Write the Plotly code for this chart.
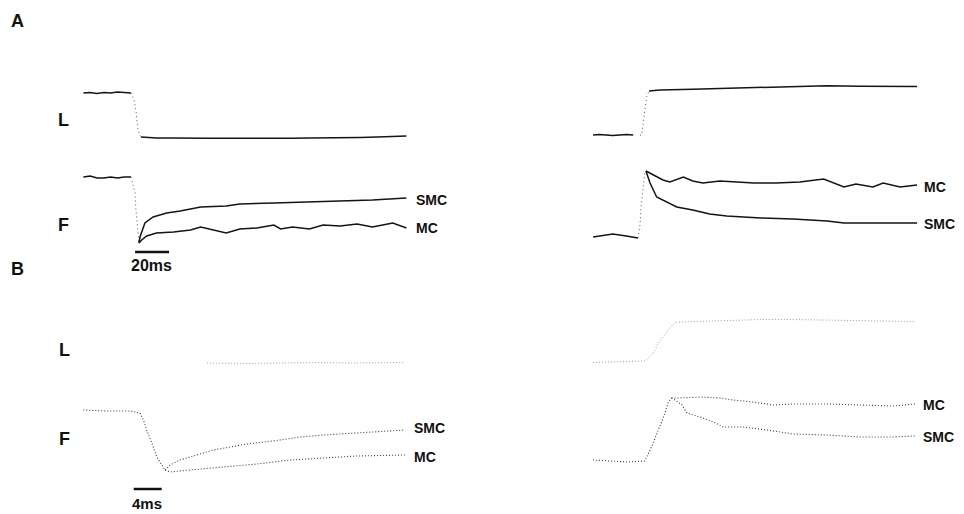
import plotly.graph_objects as go

W, H = 964, 514

# ---------------------------------------------------------------------------
# Recorded traces. Time in ms (0 = onset of the length step).
# L: length change in units of the step size; F: force relative to the
# isometric level before the step.
# ---------------------------------------------------------------------------

# A, release (slow sweep)
A_REL_L_T = [-28, -24, -20, -16, -12, -8, -4, 0, 1.8, 2.9, 3.5, 4.1, 5.9,
             15, 25, 35, 45, 55, 65, 75, 85, 95, 105, 115, 125, 135, 145, 155, 162]
A_REL_L_V = [0.0, 0.01, -0.01, 0.01, 0.0, 0.02, 0.01, 0.0, -0.16, -0.39, -0.61, -0.84, -1.0,
             -1.02, -1.02, -1.03, -1.03, -1.03, -1.03, -1.04, -1.04, -1.03, -1.02, -1.02,
             -1.02, -1.01, -1.0, -0.99, -0.98]

A_REL_F_PRE_T = [-28, -24, -20, -16, -12, -8, -4, 0, 2.4, 2.9, 3.7, 4.7]
A_REL_F_PRE_V = [1.0, 1.01, 0.99, 0.99, 1.0, 0.99, 1.0, 1.0, 0.84, 0.67, 0.5, 0.34]

A_REL_SMC_T = [4.7, 5.3, 6.3, 8.2, 13, 21, 29, 41, 56, 64, 84, 103, 123, 142, 162]
A_REL_SMC_V = [0.34, 0.40, 0.45, 0.54, 0.60, 0.64, 0.66, 0.70, 0.71, 0.73, 0.74, 0.75,
               0.76, 0.77, 0.79]

A_REL_MC_T = [4.7, 6.3, 9.2, 15, 25, 35, 41, 48, 56, 64, 74, 84, 88, 95, 105, 113, 123,
              133, 142, 154, 162]
A_REL_MC_V = [0.34, 0.37, 0.41, 0.44, 0.45, 0.47, 0.50, 0.47, 0.44, 0.48, 0.49, 0.52,
              0.48, 0.50, 0.48, 0.52, 0.51, 0.53, 0.50, 0.54, 0.49]

# A, stretch (slow sweep)
A_STR_L_T = [-27.6, -24, -20, -16, -12, -8, -4, 0, 1.0, 1.6, 2.4, 2.9, 3.9, 5.3,
             11.8, 31, 51, 71, 90, 110, 129, 149, 163]
A_STR_L_V = [0.0, 0.01, 0.0, -0.01, 0.0, 0.01, 0.0, 0.0, 0.0, 0.19, 0.42, 0.64, 0.87, 1.0,
             1.02, 1.04, 1.06, 1.08, 1.10, 1.12, 1.11, 1.11, 1.10]

A_STR_F_PRE_T = [-27.6, -16, -8, -1.2, 0, 0.6, 1.4, 2.0, 2.9, 3.5]
A_STR_F_PRE_V = [1.0, 1.03, 1.01, 0.99, 1.12, 1.30, 1.44, 1.57, 1.65, 1.66]

A_STR_MC_T = [3.5, 7.6, 13.5, 17.6, 25.5, 31, 37, 47, 57, 67, 80, 94, 108, 120, 127, 137,
              143, 153, 163]
A_STR_MC_V = [1.66, 1.62, 1.57, 1.55, 1.60, 1.56, 1.54, 1.56, 1.55, 1.54, 1.54, 1.55,
              1.58, 1.50, 1.53, 1.50, 1.54, 1.50, 1.52]

A_STR_SMC_T = [3.5, 5.9, 9.8, 15.7, 21.6, 31, 41, 51, 71, 90, 110, 120, 139, 163]
A_STR_SMC_V = [1.66, 1.54, 1.40, 1.35, 1.30, 1.27, 1.23, 1.21, 1.19, 1.18, 1.16, 1.14,
               1.14, 1.14]

# B, release (fast sweep)
B_REL_L_T = [9.6, 15, 20, 25, 30, 35, 37.9]
B_REL_L_V = [-1.0, -1.01, -1.0, -0.99, -1.0, -0.99, -0.99]

B_REL_F_PRE_T = [-8.1, -4.8, -1.4, 0, 0.5, 0.95, 1.7, 2.4, 3.1, 3.6]
B_REL_F_PRE_V = [1.0, 0.99, 0.99, 0.97, 0.90, 0.80, 0.67, 0.53, 0.45, 0.40]

B_REL_SMC_T = [3.6, 4.3, 5.7, 8.1, 10.5, 12.9, 15.2, 19, 22.9, 26.2, 31, 34.8, 37.9]
B_REL_SMC_V = [0.40, 0.45, 0.50, 0.55, 0.60, 0.63, 0.66, 0.69, 0.73, 0.75, 0.77, 0.78, 0.80]

B_REL_MC_T = [3.6, 4.3, 7.1, 11.9, 16.7, 21.4, 26.2, 31, 37.9]
B_REL_MC_V = [0.40, 0.38, 0.40, 0.43, 0.46, 0.50, 0.52, 0.54, 0.55]

# B, stretch (fast sweep)
B_STR_L_T = [-7.7, -3.9, -0.3, 0.9, 1.6, 2.1, 2.7, 3.3, 4.0, 6.6, 11.4, 16.1, 20.9, 25.7,
             30.4, 35.2, 38.3]
B_STR_L_V = [0.01, 0.03, 0.05, 0.24, 0.48, 0.60, 0.72, 0.87, 0.99, 1.01, 1.03, 1.06, 1.06,
             1.05, 1.03, 1.03, 1.01]

B_STR_F_PRE_T = [-7.7, -5.3, -2.9, -0.3, 0.1, 0.9, 1.6, 2.1, 2.6, 3.0, 3.5]
B_STR_F_PRE_V = [1.0, 0.99, 0.98, 0.99, 1.05, 1.17, 1.30, 1.38, 1.48, 1.57, 1.62]

B_STR_MC_T = [3.5, 4.7, 7.6, 10.4, 12.3, 15.2, 18, 20.9, 25.7, 30.4, 35.2, 38.3]
B_STR_MC_V = [1.62, 1.62, 1.63, 1.62, 1.60, 1.58, 1.55, 1.56, 1.56, 1.55, 1.54, 1.56]

B_STR_SMC_T = [3.5, 4.0, 5.0, 5.7, 7.6, 9.5, 10.9, 13.7, 17.1, 20.9, 25.7, 30.4, 35.2, 38.3]
B_STR_SMC_V = [1.62, 1.60, 1.55, 1.47, 1.43, 1.38, 1.33, 1.33, 1.30, 1.26, 1.25, 1.23,
               1.23, 1.24]

# step windows in the slow sweeps, drawn as sparse dots (fast transient)
A_REL_STEP = (0.0, 5.9)
A_STR_STEP = (-1.2, 5.3)

SCALE_A_MS = 20
SCALE_B_MS = 4

PANEL_LETTERS = ["A", "B"]
ROW_LABELS = ["L", "F"]
SERIES_NAMES = ["SMC", "MC"]


# ---------------------------------------------------------------------------
# Axis helpers: place each recording in its own axis box
# ---------------------------------------------------------------------------
def xspan(p0, p1, p_zero, px_per_ms):
    return dict(domain=[p0 / W, p1 / W],
                range=[(p0 - p_zero) / px_per_ms, (p1 - p_zero) / px_per_ms],
                visible=False, fixedrange=True)


def yspan(top, bot, p_ref, v_ref, px_per_unit):
    def val(p):
        return v_ref + (p_ref - p) / px_per_unit
    return dict(domain=[1 - bot / H, 1 - top / H], range=[val(bot), val(top)],
                visible=False, fixedrange=True)


fig = go.Figure()

SOLID = dict(color="#141414", width=1.5)
STEP_DOT = dict(color="#555555", width=1.0, dash="1px,3px")
FAST_F = dict(color="#3a3a3a", width=1.1, dash="1px,2px")
FAST_L = dict(color="#9a9a9a", width=1.0, dash="1px,2px")


def add_line(t, v, xa, ya, line):
    fig.add_trace(go.Scatter(x=t, y=v, mode="lines", line=line, xaxis=xa, yaxis=ya,
                             hoverinfo="skip", showlegend=False))


def add_slow(t, v, xa, ya, step):
    """Solid plateaus with a dotted fast transient in between."""
    t0, t1 = step
    pre = [(a, b) for a, b in zip(t, v) if a <= t0]
    mid = [(a, b) for a, b in zip(t, v) if t0 <= a <= t1]
    post = [(a, b) for a, b in zip(t, v) if a >= t1]
    for seg, ln in ((pre, SOLID), (mid, STEP_DOT), (post, SOLID)):
        if len(seg) > 1:
            add_line([s[0] for s in seg], [s[1] for s in seg], xa, ya, ln)


# A, release
add_slow(A_REL_L_T, A_REL_L_V, "x", "y", A_REL_STEP)
add_slow(A_REL_F_PRE_T, A_REL_F_PRE_V, "x", "y2", A_REL_STEP)
add_line(A_REL_SMC_T, A_REL_SMC_V, "x", "y2", SOLID)
add_line(A_REL_MC_T, A_REL_MC_V, "x", "y2", SOLID)

# A, stretch
add_slow(A_STR_L_T, A_STR_L_V, "x2", "y3", A_STR_STEP)
add_slow(A_STR_F_PRE_T, A_STR_F_PRE_V, "x2", "y4", A_STR_STEP)
add_line(A_STR_MC_T, A_STR_MC_V, "x2", "y4", SOLID)
add_line(A_STR_SMC_T, A_STR_SMC_V, "x2", "y4", SOLID)

# B, release
add_line(B_REL_L_T, B_REL_L_V, "x3", "y5", FAST_L)
add_line(B_REL_F_PRE_T, B_REL_F_PRE_V, "x3", "y6", FAST_F)
add_line(B_REL_SMC_T, B_REL_SMC_V, "x3", "y6", FAST_F)
add_line(B_REL_MC_T, B_REL_MC_V, "x3", "y6", FAST_F)

# B, stretch
add_line(B_STR_L_T, B_STR_L_V, "x4", "y7", FAST_L)
add_line(B_STR_F_PRE_T, B_STR_F_PRE_V, "x4", "y8", FAST_F)
add_line(B_STR_MC_T, B_STR_MC_V, "x4", "y8", FAST_F)
add_line(B_STR_SMC_T, B_STR_SMC_V, "x4", "y8", FAST_F)

layout_axes = dict(
    xaxis=xspan(75, 415, 131, 1.7),
    xaxis2=xspan(585, 922, 640, 1.7),
    xaxis3=xspan(75, 415, 140, 7.0),
    xaxis4=xspan(585, 922, 647, 7.0),
    yaxis=yspan(75, 152, 93, 0.0, 44),
    yaxis2=yspan(160, 252, 177, 1.0, 100),
    yaxis3=yspan(75, 152, 135, 0.0, 44),
    yaxis4=yspan(160, 252, 237, 1.0, 100),
    yaxis5=yspan(300, 378, 322, 0.0, 41),
    yaxis6=yspan(392, 482, 410, 1.0, 100),
    yaxis7=yspan(300, 378, 363, 0.0, 41),
    yaxis8=yspan(385, 475, 460, 1.0, 100),
)

FONT = "Liberation Sans, Arial, Helvetica, sans-serif"


def label(text, px, py, size, xanchor="center"):
    return dict(text="<b>%s</b>" % text, x=px / W, y=1 - py / H, xref="paper", yref="paper",
                showarrow=False, xanchor=xanchor, yanchor="middle",
                font=dict(family=FONT, size=size, color="#111111"))


annotations = [
    label(PANEL_LETTERS[0], 17, 21, 18),
    label(PANEL_LETTERS[1], 17, 269, 18),
    label(ROW_LABELS[0], 63, 120, 18),
    label(ROW_LABELS[1], 63, 225, 18),
    label(ROW_LABELS[0], 64, 350, 18),
    label(ROW_LABELS[1], 64, 439, 18),
    label(SERIES_NAMES[0], 414, 200, 14, "left"),
    label(SERIES_NAMES[1], 414, 228, 14, "left"),
    label(SERIES_NAMES[1], 922, 187, 14, "left"),
    label(SERIES_NAMES[0], 922, 224, 14, "left"),
    label(SERIES_NAMES[0], 412, 428, 14, "left"),
    label(SERIES_NAMES[1], 412, 457, 14, "left"),
    label(SERIES_NAMES[1], 921, 405, 14, "left"),
    label(SERIES_NAMES[0], 921, 437, 14, "left"),
    label("%dms" % SCALE_A_MS, 151, 265, 16),
    label("%dms" % SCALE_B_MS, 147, 503, 15),
]

# time calibration bars
bar_a0, bar_b0 = 2.4, -0.9
shapes = [
    dict(type="line", xref="x", yref="paper", x0=bar_a0, x1=bar_a0 + SCALE_A_MS,
         y0=1 - 252 / H, y1=1 - 252 / H, line=dict(color="#111111", width=2.5)),
    dict(type="line", xref="x3", yref="paper", x0=bar_b0, x1=bar_b0 + SCALE_B_MS,
         y0=1 - 489 / H, y1=1 - 489 / H, line=dict(color="#111111", width=2.5)),
]

fig.update_layout(
    width=W, height=H,
    margin=dict(l=0, r=0, t=0, b=0),
    paper_bgcolor="white", plot_bgcolor="white",
    showlegend=False,
    annotations=annotations,
    shapes=shapes,
    **layout_axes,
)

fig.write_html("out.html", config={"displayModeBar": False})
